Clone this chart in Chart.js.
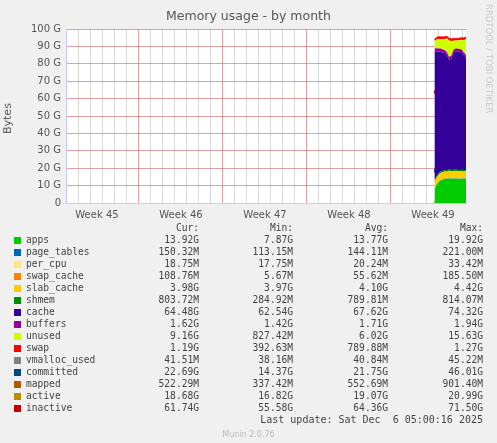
<!DOCTYPE html>
<html><head><meta charset="utf-8">
<script src="https://cdn.jsdelivr.net/npm/chart.js@4"></script>
<style>
body{margin:0;background:#f0f0f0;width:497px;height:443px;position:relative;overflow:hidden;font-family:"DejaVu Sans",sans-serif;}
#c{position:absolute;left:0;top:0;}
.t{position:absolute;color:#555;}
#leg{position:absolute;left:0;top:222px;font-family:"DejaVu Sans Mono",monospace;font-size:9.6px;color:#444;}
.row{position:absolute;height:12px;white-space:pre;}
.sw{position:absolute;width:7px;height:7px;left:14px;}
.nm{position:absolute;left:26px;}
.v{position:absolute;text-align:right;width:90px;}
</style></head><body>
<canvas id="c" width="497" height="226"></canvas>
<div class="t" style="left:0;width:497px;top:8px;text-align:center;font-size:12.5px;color:#555">Memory usage - by month</div>
<div class="t" style="left:-8px;top:112px;font-size:11px;transform:rotate(-90deg)">Bytes</div>
<div class="t" style="left:425px;top:50px;font-size:8.5px;color:#ccc;transform:rotate(90deg);transform-origin:0 0;left:494px;top:4px;white-space:nowrap">RRDTOOL / TOBI OETIKER</div>
<div id="leg"></div>
<div class="t" style="right:14px;top:414px;font-size:10px;font-family:'DejaVu Sans Mono',monospace;color:#444;white-space:pre">Last update: Sat Dec  6 05:00:16 2025</div>
<div class="t" style="left:0;width:497px;text-align:center;top:430px;font-size:8px;color:#bbb">Munin 2.0.76</div>
<script>
const days=[30.7,30.87,31.05,31.22,31.4,31.57,31.75,31.92,32.1,32.27,32.45,32.62,32.8,32.97,33.15,33.33];
const weekLabels=["Week 45","Week 46","Week 47","Week 48","Week 49"];
const apps=[8,10,12,13,13.5,14,13.8,14.2,14,13.9,14.1,14,13.8,14,13.9,13.92];
const page_tables=[0.12,0.14,0.15,0.14,0.15,0.14,0.13,0.15,0.14,0.15,0.14,0.15,0.14,0.15,0.14,0.15];
const per_cpu=[0.02,0.02,0.02,0.02,0.02,0.02,0.02,0.02,0.02,0.02,0.02,0.02,0.02,0.02,0.02,0.02];
const swap_cache=[0.01,0.02,0.03,0.04,0.05,0.05,0.06,0.06,0.07,0.07,0.08,0.09,0.09,0.1,0.1,0.11];
const slab_cache=[4.4,4.2,4.1,4.1,4.0,4.1,4.0,4.1,4.0,4.1,4.0,4.1,4.0,4.0,4.0,3.98];
const shmem=[0.3,0.8,0.8,0.8,0.8,0.8,0.8,0.8,0.8,0.8,0.8,0.8,0.8,0.8,0.8,0.8];
const cache=[74,72,70,69,68,67,66,63,64,67,68,68,68,67.5,66,64.48];
const buffers=[1.9,1.8,1.7,1.7,1.7,1.7,1.7,1.6,1.6,1.7,1.7,1.7,1.7,1.7,1.6,1.62];
const unused=[4,5,5.5,5.5,6,6.5,8,9.5,8.5,5.5,4.5,4.5,5,5.5,7,9.16];
const swap=[1.2,1.2,1.2,1.2,1.2,1.2,1.2,1.2,1.2,1.2,1.2,1.2,1.2,1.2,1.2,1.19];
const vmalloc_used=[0.04,0.04,0.04,0.04,0.04,0.04,0.04,0.04,0.04,0.04,0.04,0.04,0.04,0.04,0.04,0.04];
const committed=[18,22,23,21,22,23,20,22,21,22,23,22,21,22,23,22.69];
const mapped=[0.4,0.55,0.55,0.55,0.55,0.55,0.55,0.55,0.55,0.55,0.55,0.55,0.55,0.55,0.55,0.52];
const active=[17,18,19,18.5,19,18,19,19.5,18.5,19,18,19,19,18.5,19,18.68];
const inactive=[63,66,68,66,62,60,64,65,63,64,63,64,62,63,62,61.74];
const yTicks=[0,10,20,30,40,50,60,70,80,90,100];

const areas=[["apps",apps,"#00cc00"],["page_tables",page_tables,"#0066b3"],["per_cpu",per_cpu,"#ffe680"],["swap_cache",swap_cache,"#ff8000"],["slab_cache",slab_cache,"#ffcc00"],["shmem",shmem,"#008f00"],["cache",cache,"#330099"],["buffers",buffers,"#990099"],["unused",unused,"#ccff00"],["swap",swap,"#ff0000"]];
const lines=[["vmalloc_used",vmalloc_used,"#808080"],["committed",committed,"#00487d"],["mapped",mapped,"#b35a00"],["active",active,"#b38f00"],["inactive",inactive,"#cc0000"]];
const ds=[];
areas.forEach((a,i)=>ds.push({label:a[0],data:a[1].map((v,j)=>({x:days[j],y:v})),backgroundColor:a[2],borderColor:a[2],borderWidth:i==9?1:0,fill:i==0?'origin':'-1',pointRadius:0,yAxisID:'y',stack:'s',tension:0}));
lines.forEach(a=>ds.push({label:a[0],data:a[1].map((v,j)=>({x:days[j],y:v})),borderColor:a[2],borderWidth:a[0]=="inactive"?2:1.5,fill:false,pointRadius:0,yAxisID:'yl',tension:0}));
const bg={id:'bg',beforeDraw(c){const a=c.chartArea,g=c.ctx;g.save();g.fillStyle='#fff';g.fillRect(a.left,a.top,a.right-a.left,a.bottom-a.top);g.restore();}};
new Chart(document.getElementById('c'),{type:'line',data:{datasets:ds},plugins:[bg],options:{
 responsive:false,animation:false,plugins:{legend:{display:false},tooltip:{enabled:false}},
 layout:{padding:{top:29,right:31,left:0,bottom:0}},
 scales:{
  x:{type:'linear',min:0,max:33.33,
   afterBuildTicks(s){const t=[];for(let v=0.08;v<=33.33;v+=0.5)t.push({value:+v.toFixed(2)});s.ticks=t;},
   afterFit(s){s.height=23;},
   border:{color:'#c8c8ff',width:1},
   grid:{drawTicks:false,lineWidth:1,color(c){const v=c.tick.value;const k=Math.round((v-0.08)*2);if(k%2)return 'transparent';const d=k/2;return (d%7==6)?'rgba(220,120,120,0.7)':'rgba(190,190,190,0.6)';},tickBorderDash:[1,2]},
   ticks:{maxRotation:0,autoSkip:false,padding:6,color:'#555',font:{size:10,family:'DejaVu Sans'},callback(v){const w=(v-2.58)/7;const r=Math.round(w);return Math.abs(w-r)<0.01&&r>=0&&r<5?weekLabels[r]:'';}}},
  y:{stacked:true,min:0,max:100,
   afterBuildTicks(s){const t=[];for(let v=0;v<=100;v+=5)t.push({value:v});s.ticks=t;},
   afterFit(s){s.width=66;},
   border:{color:'#c8c8ff'},
   grid:{drawTicks:false,color(c){return c.tick.value%10==0?'rgba(220,120,120,0.7)':'rgba(190,190,190,0.6)';}},
   ticks:{padding:5,color:'#555',font:{size:10,family:'DejaVu Sans'},callback(v){return v%10==0&&yTicks.includes(v)?(v==0?'0':v+' G'):'';}}},
  yl:{display:false,min:0,max:100}
 }}});
// dashed gridlines
Chart.defaults.borderDash=[1,2];
const rows=[["apps","#00cc00","13.92G","7.87G","13.77G","19.92G"],["page_tables","#0066b3","150.32M","113.15M","144.11M","221.00M"],["per_cpu","#ffe680","18.75M","17.75M","20.24M","33.42M"],["swap_cache","#ff8000","108.76M","5.67M","55.62M","185.50M"],["slab_cache","#ffcc00","3.98G","3.97G","4.10G","4.42G"],["shmem","#008f00","803.72M","284.92M","789.81M","814.07M"],["cache","#330099","64.48G","62.54G","67.62G","74.32G"],["buffers","#990099","1.62G","1.42G","1.71G","1.94G"],["unused","#ccff00","9.16G","827.42M","6.02G","15.63G"],["swap","#ff0000","1.19G","392.63M","789.88M","1.27G"],["vmalloc_used","#808080","41.51M","38.16M","40.84M","45.22M"],["committed","#00487d","22.69G","14.37G","21.75G","46.01G"],["mapped","#b35a00","522.29M","337.42M","552.69M","901.40M"],["active","#b38f00","18.68G","16.82G","19.07G","20.99G"],["inactive","#cc0000","61.74G","55.58G","64.36G","71.50G"]];
const L=document.getElementById('leg');const ends=[199,293,388,483];
let h='<div class="row" style="top:0">';["Cur:","Min:","Avg:","Max:"].forEach((s,i)=>h+=`<span class="v" style="left:${ends[i]-90}px">${s}</span>`);h+='</div>';
rows.forEach((r,k)=>{const y=12+k*12;h+=`<div class="row" style="top:${y}px;width:497px"><span class="sw" style="background:${r[1]};top:3px"></span><span class="nm">${r[0]}</span>`;for(let i=0;i<4;i++)h+=`<span class="v" style="left:${ends[i]-90}px">${r[i+2]}</span>`;h+='</div>';});
L.innerHTML=h;L.style.width='497px';
</script></body></html>
